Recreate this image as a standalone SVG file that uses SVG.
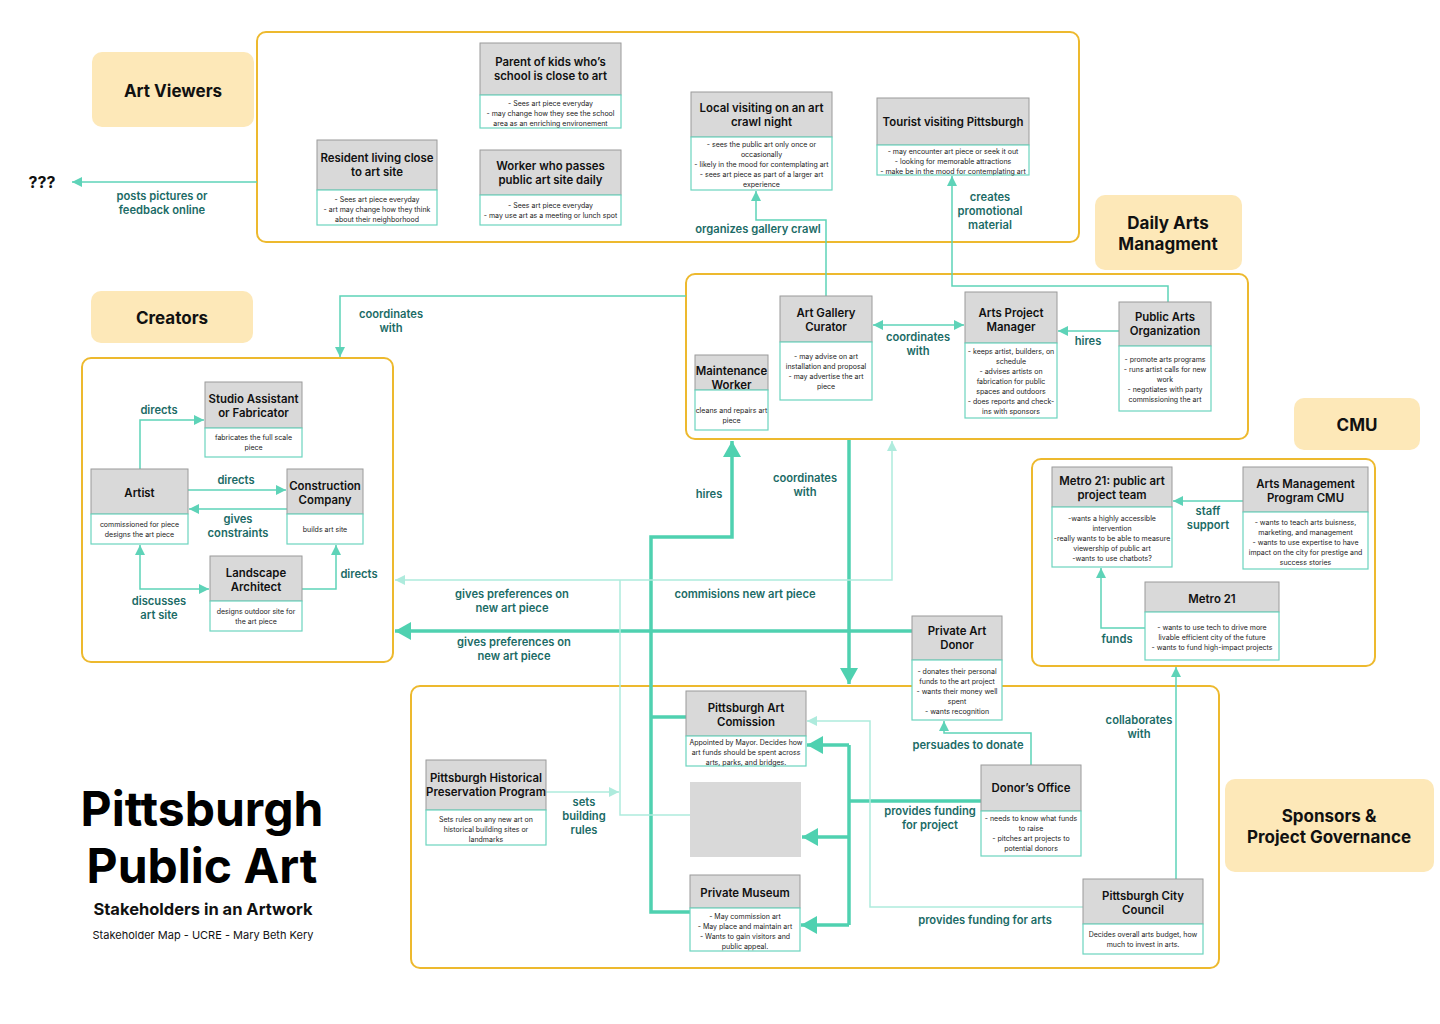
<svg xmlns="http://www.w3.org/2000/svg" width="1440" height="1024" viewBox="0 0 1440 1024">
<style>
text{font-family:Inter,"Liberation Sans",sans-serif}
.grp{fill:#fff;stroke:#EDB92E;stroke-width:2}
.lbl{fill:#FDE8B8}
.lt{font-weight:700;font-size:17px;fill:#111;text-anchor:middle}
.hd{fill:#D9D9D9;stroke:#9A9A9A;stroke-width:1}
.bd{fill:#fff;stroke:#6CD4BF;stroke-width:1.2}
.ht{font-weight:600;font-size:11.4px;fill:#111;text-anchor:middle}
.bt{font-size:7px;fill:#222;text-anchor:middle}
.ct{font-weight:600;font-size:11.2px;fill:#1B6B66;text-anchor:middle}
.ln{stroke:#5ED3B8;stroke-width:1.5;fill:none}
.lnl{stroke:#AEEBDD;stroke-width:1.5;fill:none}
.lnt{stroke:#4FD1B0;stroke-width:3.5;fill:none}
</style>
<defs>
<marker id="a" viewBox="0 0 10 10" refX="10" refY="5" markerWidth="10" markerHeight="10" markerUnits="userSpaceOnUse" orient="auto-start-reverse"><path d="M0,0 L10,5 L0,10 z" fill="#5ED3B8"/></marker>
<marker id="al" viewBox="0 0 10 10" refX="10" refY="5" markerWidth="10" markerHeight="10" markerUnits="userSpaceOnUse" orient="auto-start-reverse"><path d="M0,0 L10,5 L0,10 z" fill="#AEEBDD"/></marker>
<marker id="at" viewBox="0 0 16 18" refX="16" refY="9" markerWidth="16" markerHeight="18" markerUnits="userSpaceOnUse" orient="auto"><path d="M0,0 L16,9 L0,18 z" fill="#4FD1B0"/></marker>
</defs>
<rect width="1440" height="1024" fill="#fff"/>

<g id="groups">
<rect class="grp" x="257" y="32" width="822" height="210" rx="9"/>
<rect class="grp" x="686" y="274" width="562" height="165" rx="9"/>
<rect class="grp" x="82" y="358" width="311" height="304" rx="9"/>
<rect class="grp" x="1032" y="459" width="343" height="207" rx="9"/>
<rect class="grp" x="411" y="686" width="808" height="282" rx="9"/>
</g>

<g id="group-labels">
<g id="lbl-viewers"><rect class="lbl" x="92" y="52" width="162" height="75" rx="10"/><text class="lt" x="173" y="97">Art Viewers</text></g>
<g id="lbl-daily"><rect class="lbl" x="1095" y="195" width="147" height="75" rx="10"/><text class="lt" x="1168" y="229">Daily Arts</text><text class="lt" x="1168" y="250">Managment</text></g>
<g id="lbl-creators"><rect class="lbl" x="91" y="291" width="162" height="52" rx="10"/><text class="lt" x="172" y="324">Creators</text></g>
<g id="lbl-cmu"><rect class="lbl" x="1294" y="398" width="126" height="52" rx="10"/><text class="lt" x="1357" y="431">CMU</text></g>
<g id="lbl-sponsors"><rect class="lbl" x="1225" y="779" width="209" height="93" rx="10"/><text class="lt" x="1329" y="822">Sponsors &amp;</text><text class="lt" x="1329" y="843">Project Governance</text></g>
</g>

<g id="connectors">
<path class="ln" d="M257,182 H72" marker-end="url(#a)"/>
<path class="ln" d="M826,296 V220 H756 V191" marker-end="url(#a)"/>
<path class="ln" d="M1168,302 V286 H952 V176" marker-end="url(#a)"/>
<path class="ln" d="M686,296 H340 V357" marker-end="url(#a)"/>
<path class="ln" d="M873,325 H964" marker-start="url(#a)" marker-end="url(#a)"/>
<path class="ln" d="M1119,331 H1058" marker-end="url(#a)"/>
<path class="ln" d="M140,469 V420 H204" marker-end="url(#a)"/>
<path class="ln" d="M188,490 H286" marker-end="url(#a)"/>
<path class="ln" d="M287,509 H189" marker-end="url(#a)"/>
<path class="ln" d="M140,545 V589 H209" marker-start="url(#a)" marker-end="url(#a)"/>
<path class="ln" d="M302,589 H336 V545" marker-end="url(#a)"/>
<path class="lnt" d="M686,717 H651"/>
<path class="lnt" d="M690,912 H651 V537 H732 V441" marker-end="url(#at)"/>
<path class="lnt" d="M849,440 V684" marker-end="url(#at)"/>
<path class="lnt" d="M912,631 H395" marker-end="url(#at)"/>
<path class="lnl" d="M690,815 H620 V580"/>
<path class="lnl" d="M620,580 H395" marker-end="url(#al)"/>
<path class="lnl" d="M620,580 H892 V441" marker-end="url(#al)"/>
<path class="lnl" d="M546,792 H619" marker-end="url(#al)"/>
<path class="ln" d="M1031,765 V733 H944 V721" marker-end="url(#a)"/>
<path class="lnt" d="M981,801 H849"/>
<path class="lnt" d="M849,745 V925"/>
<path class="lnt" d="M849,745 H807" marker-end="url(#at)"/>
<path class="lnt" d="M849,837 H802" marker-end="url(#at)"/>
<path class="lnt" d="M849,925 H801" marker-end="url(#at)"/>
<path class="lnl" d="M1083,907 H870 V721 H807" marker-end="url(#al)"/>
<path class="ln" d="M1176,879 V667" marker-end="url(#a)"/>
<path class="ln" d="M1243,501 H1173" marker-end="url(#a)"/>
<path class="ln" d="M1145,628 H1101 V568" marker-end="url(#a)"/>
</g>

<g id="connector-labels">
<text class="ct" x="162" y="200">posts pictures or</text><text class="ct" x="162" y="214">feedback online</text>
<text class="ct" x="758" y="233">organizes gallery crawl</text>
<text class="ct" x="990" y="201">creates</text><text class="ct" x="990" y="215">promotional</text><text class="ct" x="990" y="229">material</text>
<text class="ct" x="391" y="318">coordinates</text><text class="ct" x="391" y="332">with</text>
<text class="ct" x="918" y="341">coordinates</text><text class="ct" x="918" y="355">with</text>
<text class="ct" x="1088" y="345">hires</text>
<text class="ct" x="159" y="414">directs</text>
<text class="ct" x="236" y="484">directs</text>
<text class="ct" x="238" y="523">gives</text><text class="ct" x="238" y="537">constraints</text>
<text class="ct" x="159" y="605">discusses</text><text class="ct" x="159" y="619">art site</text>
<text class="ct" x="359" y="578">directs</text>
<text class="ct" x="709" y="498">hires</text>
<text class="ct" x="805" y="482">coordinates</text><text class="ct" x="805" y="496">with</text>
<text class="ct" x="512" y="598">gives preferences on</text><text class="ct" x="512" y="612">new art piece</text>
<text class="ct" x="745" y="598">commisions new art piece</text>
<text class="ct" x="514" y="646">gives preferences on</text><text class="ct" x="514" y="660">new art piece</text>
<text class="ct" x="584" y="806">sets</text><text class="ct" x="584" y="820">building</text><text class="ct" x="584" y="834">rules</text>
<text class="ct" x="968" y="749">persuades to donate</text>
<text class="ct" x="930" y="815">provides funding</text><text class="ct" x="930" y="829">for project</text>
<text class="ct" x="985" y="924">provides funding for arts</text>
<text class="ct" x="1139" y="724">collaborates</text><text class="ct" x="1139" y="738">with</text>
<text class="ct" x="1208" y="515">staff</text><text class="ct" x="1208" y="529">support</text>
<text class="ct" x="1117" y="643">funds</text>
</g>

<g id="node-unknown"><text x="42" y="188" style="font-weight:700;font-size:16px;fill:#111;text-anchor:middle">???</text></g>

<g id="node-resident"><rect class="hd" x="317" y="140" width="120" height="50"/><rect class="bd" x="317" y="190" width="120" height="35"/>
<text class="ht" x="377" y="162">Resident living close</text><text class="ht" x="377" y="176">to art site</text>
<text class="bt" x="377" y="201.5">- Sees art piece everyday</text><text class="bt" x="377" y="211.5">- art may change how they think</text><text class="bt" x="377" y="221.5">about their neighborhood</text></g>

<g id="node-parent"><rect class="hd" x="480" y="43" width="141" height="52"/><rect class="bd" x="480" y="95" width="141" height="33"/>
<text class="ht" x="550.5" y="66">Parent of kids who’s</text><text class="ht" x="550.5" y="80">school is close to art</text>
<text class="bt" x="550.5" y="105.5">- Sees art piece everyday</text><text class="bt" x="550.5" y="115.5">- may change how they see the school</text><text class="bt" x="550.5" y="125.5">area as an enriching environement</text></g>

<g id="node-worker"><rect class="hd" x="480" y="150" width="141" height="45"/><rect class="bd" x="480" y="195" width="141" height="30"/>
<text class="ht" x="550.5" y="170">Worker who passes</text><text class="ht" x="550.5" y="184">public art site daily</text>
<text class="bt" x="550.5" y="207.5">- Sees art piece everyday</text><text class="bt" x="550.5" y="217.5">-  may use art as a meeting or lunch spot</text></g>

<g id="node-local"><rect class="hd" x="691" y="92" width="141" height="45"/><rect class="bd" x="691" y="137" width="141" height="53"/>
<text class="ht" x="761.5" y="112">Local visiting on an art</text><text class="ht" x="761.5" y="126">crawl night</text>
<text class="bt" x="761.5" y="146.5">- sees the public art only once or</text><text class="bt" x="761.5" y="156.5">occasionally</text><text class="bt" x="761.5" y="166.5">- likely in the mood for contemplating art</text><text class="bt" x="761.5" y="176.5">- sees art piece as part of a larger art</text><text class="bt" x="761.5" y="186.5">experience</text></g>

<g id="node-tourist"><rect class="hd" x="877" y="98" width="152" height="47"/><rect class="bd" x="877" y="145" width="152" height="30"/>
<text class="ht" x="953" y="126">Tourist visiting Pittsburgh</text>
<text class="bt" x="953" y="153.5">- may encounter art piece or seek it out</text><text class="bt" x="953" y="163.5">- looking for memorable attractions</text><text class="bt" x="953" y="173.5">- make be in the mood for contemplating art</text></g>

<g id="node-maintenance"><rect class="hd" x="695" y="355" width="73" height="35"/><rect class="bd" x="695" y="390" width="73" height="40"/>
<text class="ht" x="731.5" y="375">Maintenance</text><text class="ht" x="731.5" y="389">Worker</text>
<text class="bt" x="731.5" y="412.5">cleans and repairs art</text><text class="bt" x="731.5" y="422.5">piece</text></g>

<g id="node-curator"><rect class="hd" x="780" y="296" width="92" height="46"/><rect class="bd" x="780" y="342" width="92" height="58"/>
<text class="ht" x="826" y="317">Art Gallery</text><text class="ht" x="826" y="331">Curator</text>
<text class="bt" x="826" y="358.5">- may advise on art</text><text class="bt" x="826" y="368.5">installation and proposal</text><text class="bt" x="826" y="378.5">- may advertise the art</text><text class="bt" x="826" y="388.5">piece</text></g>

<g id="node-apm"><rect class="hd" x="965" y="292" width="92" height="51"/><rect class="bd" x="965" y="343" width="92" height="75"/>
<text class="ht" x="1011" y="317">Arts Project</text><text class="ht" x="1011" y="331">Manager</text>
<text class="bt" x="1011" y="353.5">- keeps artist, builders, on</text><text class="bt" x="1011" y="363.5">schedule</text><text class="bt" x="1011" y="373.5">- advises artists on</text><text class="bt" x="1011" y="383.5">fabrication for public</text><text class="bt" x="1011" y="393.5">spaces and outdoors</text><text class="bt" x="1011" y="403.5">- does reports and check-</text><text class="bt" x="1011" y="413.5">ins with sponsors</text></g>

<g id="node-pao"><rect class="hd" x="1119" y="302" width="92" height="44"/><rect class="bd" x="1119" y="346" width="92" height="65"/>
<text class="ht" x="1165" y="321">Public Arts</text><text class="ht" x="1165" y="335">Organization</text>
<text class="bt" x="1165" y="361.5">- promote arts programs</text><text class="bt" x="1165" y="371.5">- runs artist calls for new</text><text class="bt" x="1165" y="381.5">work</text><text class="bt" x="1165" y="391.5">- negotiates with party</text><text class="bt" x="1165" y="401.5">commissioning the art</text></g>

<g id="node-studio"><rect class="hd" x="205" y="382" width="97" height="46"/><rect class="bd" x="205" y="428" width="97" height="29"/>
<text class="ht" x="253.5" y="403">Studio Assistant</text><text class="ht" x="253.5" y="417">or Fabricator</text>
<text class="bt" x="253.5" y="439.5">fabricates the full scale</text><text class="bt" x="253.5" y="449.5">piece</text></g>

<g id="node-artist"><rect class="hd" x="91" y="469" width="97" height="45"/><rect class="bd" x="91" y="514" width="97" height="30"/>
<text class="ht" x="139.5" y="497">Artist</text>
<text class="bt" x="139.5" y="526.5">commissioned for piece</text><text class="bt" x="139.5" y="536.5">designs the art piece</text></g>

<g id="node-construction"><rect class="hd" x="287" y="469" width="76" height="45"/><rect class="bd" x="287" y="514" width="76" height="30"/>
<text class="ht" x="325" y="490">Construction</text><text class="ht" x="325" y="504">Company</text>
<text class="bt" x="325" y="531.5">builds art site</text></g>

<g id="node-landscape"><rect class="hd" x="210" y="556" width="92" height="45"/><rect class="bd" x="210" y="601" width="92" height="30"/>
<text class="ht" x="256" y="577">Landscape</text><text class="ht" x="256" y="591">Architect</text>
<text class="bt" x="256" y="613.5">designs outdoor site for</text><text class="bt" x="256" y="623.5">the art piece</text></g>

<g id="node-donor"><rect class="hd" x="912" y="616" width="90" height="44"/><rect class="bd" x="912" y="660" width="90" height="60"/>
<text class="ht" x="957" y="635">Private Art</text><text class="ht" x="957" y="649">Donor</text>
<text class="bt" x="957" y="673.5">- donates their personal</text><text class="bt" x="957" y="683.5">funds to the art project</text><text class="bt" x="957" y="693.5">- wants their money well</text><text class="bt" x="957" y="703.5">spent</text><text class="bt" x="957" y="713.5">- wants recognition</text></g>

<g id="node-commission"><rect class="hd" x="686" y="691" width="120" height="45"/><rect class="bd" x="686" y="736" width="120" height="30"/>
<text class="ht" x="746" y="712">Pittsburgh Art</text><text class="ht" x="746" y="726">Comission</text>
<text class="bt" x="746" y="744.5">Appointed by Mayor. Decides how</text><text class="bt" x="746" y="754.5">art funds should be spent across</text><text class="bt" x="746" y="764.5">arts, parks, and bridges.</text></g>

<g id="node-placeholder"><rect x="690" y="782" width="111" height="75" fill="#D9D9D9"/></g>

<g id="node-museum"><rect class="hd" x="690" y="875" width="110" height="33"/><rect class="bd" x="690" y="908" width="110" height="43"/>
<text class="ht" x="745" y="897">Private Museum</text>
<text class="bt" x="745" y="918.5">- May commission art</text><text class="bt" x="745" y="928.5">- May place and maintain art</text><text class="bt" x="745" y="938.5">- Wants to gain visitors and</text><text class="bt" x="745" y="948.5">public appeal.</text></g>

<g id="node-historical"><rect class="hd" x="426" y="760" width="120" height="50"/><rect class="bd" x="426" y="810" width="120" height="35"/>
<text class="ht" x="486" y="782">Pittsburgh Historical</text><text class="ht" x="486" y="796">Preservation Program</text>
<text class="bt" x="486" y="821.5">Sets rules on any new art on</text><text class="bt" x="486" y="831.5">historical building sites or</text><text class="bt" x="486" y="841.5">landmarks</text></g>

<g id="node-donors-office"><rect class="hd" x="981" y="765" width="100" height="46"/><rect class="bd" x="981" y="811" width="100" height="45"/>
<text class="ht" x="1031" y="792">Donor’s Office</text>
<text class="bt" x="1031" y="820.5">- needs to know what funds</text><text class="bt" x="1031" y="830.5">to raise</text><text class="bt" x="1031" y="840.5">- pitches art projects to</text><text class="bt" x="1031" y="850.5">potential donors</text></g>

<g id="node-council"><rect class="hd" x="1083" y="879" width="120" height="45"/><rect class="bd" x="1083" y="924" width="120" height="30"/>
<text class="ht" x="1143" y="900">Pittsburgh City</text><text class="ht" x="1143" y="914">Council</text>
<text class="bt" x="1143" y="936.5">Decides overall arts budget, how</text><text class="bt" x="1143" y="946.5">much to invest in arts.</text></g>

<g id="node-metro21-team"><rect class="hd" x="1052" y="467" width="120" height="40"/><rect class="bd" x="1052" y="507" width="120" height="60"/>
<text class="ht" x="1112" y="485">Metro 21: public art</text><text class="ht" x="1112" y="499">project team</text>
<text class="bt" x="1112" y="520.5">-wants a highly accessible</text><text class="bt" x="1112" y="530.5">intervention</text><text class="bt" x="1112" y="540.5">-really wants to be able to measure</text><text class="bt" x="1112" y="550.5">viewership of public art</text><text class="bt" x="1112" y="560.5">-wants to use chatbots?</text></g>

<g id="node-amp-cmu"><rect class="hd" x="1243" y="467" width="125" height="45"/><rect class="bd" x="1243" y="512" width="125" height="57"/>
<text class="ht" x="1305.5" y="488">Arts Management</text><text class="ht" x="1305.5" y="502">Program CMU</text>
<text class="bt" x="1305.5" y="524.5">- wants to teach arts buisness,</text><text class="bt" x="1305.5" y="534.5">marketing, and management</text><text class="bt" x="1305.5" y="544.5">- wants to use expertise to have</text><text class="bt" x="1305.5" y="554.5">impact on the city for prestige and</text><text class="bt" x="1305.5" y="564.5">success stories</text></g>

<g id="node-metro21"><rect class="hd" x="1145" y="582" width="134" height="30"/><rect class="bd" x="1145" y="612" width="134" height="48"/>
<text class="ht" x="1212" y="603">Metro 21</text>
<text class="bt" x="1212" y="629.5">- wants to use tech to drive more</text><text class="bt" x="1212" y="639.5">livable efficient city of the future</text><text class="bt" x="1212" y="649.5">- wants to fund high-impact projects</text></g>

<g id="title">
<text x="202" y="826" style="font-weight:700;font-size:48px;fill:#000;text-anchor:middle">Pittsburgh</text>
<text x="202" y="883" style="font-weight:700;font-size:48px;fill:#000;text-anchor:middle">Public Art</text>
<text x="203" y="915" style="font-weight:700;font-size:16.5px;fill:#111;text-anchor:middle">Stakeholders in an Artwork</text>
<text x="203" y="939" style="font-size:11px;fill:#111;text-anchor:middle">Stakeholder Map - UCRE - Mary Beth Kery</text>
</g>
</svg>
